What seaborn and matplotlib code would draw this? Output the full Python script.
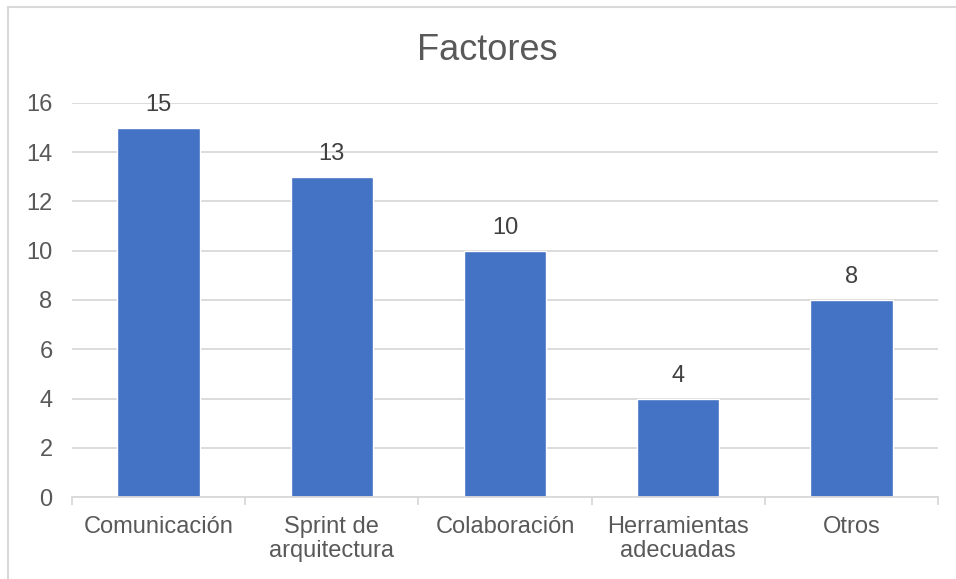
import matplotlib
matplotlib.use("Agg")
import matplotlib.pyplot as plt
from matplotlib.lines import Line2D
import seaborn as sns
import pandas as pd

# Factor categories and their counts
categories = ["Comunicación", "Sprint de\narquitectura", "Colaboración",
              "Herramientas\nadecuadas", "Otros"]
values = [15, 13, 10, 4, 8]
y_ticks = [0, 2, 4, 6, 8, 10, 12, 14, 16]

BAR = "#4472C4"
GRID = "#D9D9D9"
TEXT = "#595959"
LABEL = "#404040"

sns.set_theme(style="white")
plt.rcParams["font.family"] = ["Liberation Sans", "DejaVu Sans"]

df = pd.DataFrame({"factor": categories, "count": values})

fig = plt.figure(figsize=(9.56, 5.79), dpi=100)
ax = fig.add_axes([72 / 956, 1 - 497 / 579, (938 - 72) / 956, (497 - 103) / 579])

sns.barplot(data=df, x="factor", y="count", color=BAR, width=0.475,
            saturation=1, ax=ax, zorder=3)

ax.set_xlim(-0.5, len(categories) - 0.5)
ax.set_ylim(0, 16)
ax.set_yticks(y_ticks)
ax.set_xlabel("")
ax.set_ylabel("")

# horizontal gridlines
ax.grid(axis="y", color=GRID, linewidth=1.3, zorder=0)
ax.grid(axis="x", visible=False)

for side in ["top", "right", "left"]:
    ax.spines[side].set_visible(False)
ax.spines["bottom"].set_color(GRID)
ax.spines["bottom"].set_linewidth(1.3)
ax.spines["bottom"].set_zorder(4)

# category boundary tick marks
ax.set_xticks([i - 0.5 for i in range(len(categories) + 1)], minor=True)
ax.tick_params(axis="x", which="minor", length=6, width=1.3, color=GRID, bottom=True)
ax.tick_params(axis="x", which="major", length=0, pad=14, labelsize=17, labelcolor=TEXT)
ax.tick_params(axis="y", length=0, pad=14, labelsize=17, labelcolor=TEXT)
for lbl in ax.get_xticklabels():
    lbl.set_linespacing(1.1)

# value labels above bars
for i, v in enumerate(values):
    ax.annotate(str(v), (i, v), xytext=(0, 8.5), textcoords="offset points",
                ha="center", va="bottom", fontsize=17, color=LABEL)

fig.text(487 / 956, 1 - 51 / 579, "Factores", ha="center", va="center",
         fontsize=26, color=TEXT)

# chart frame
fig.add_artist(Line2D([7.5 / 956, 7.5 / 956], [0, 1 - 6.5 / 579],
                      color=GRID, linewidth=1.5, transform=fig.transFigure))
fig.add_artist(Line2D([7.5 / 956, 1], [1 - 6.5 / 579, 1 - 6.5 / 579],
                      color=GRID, linewidth=1.5, transform=fig.transFigure))

fig.savefig("out.png", dpi=100)
